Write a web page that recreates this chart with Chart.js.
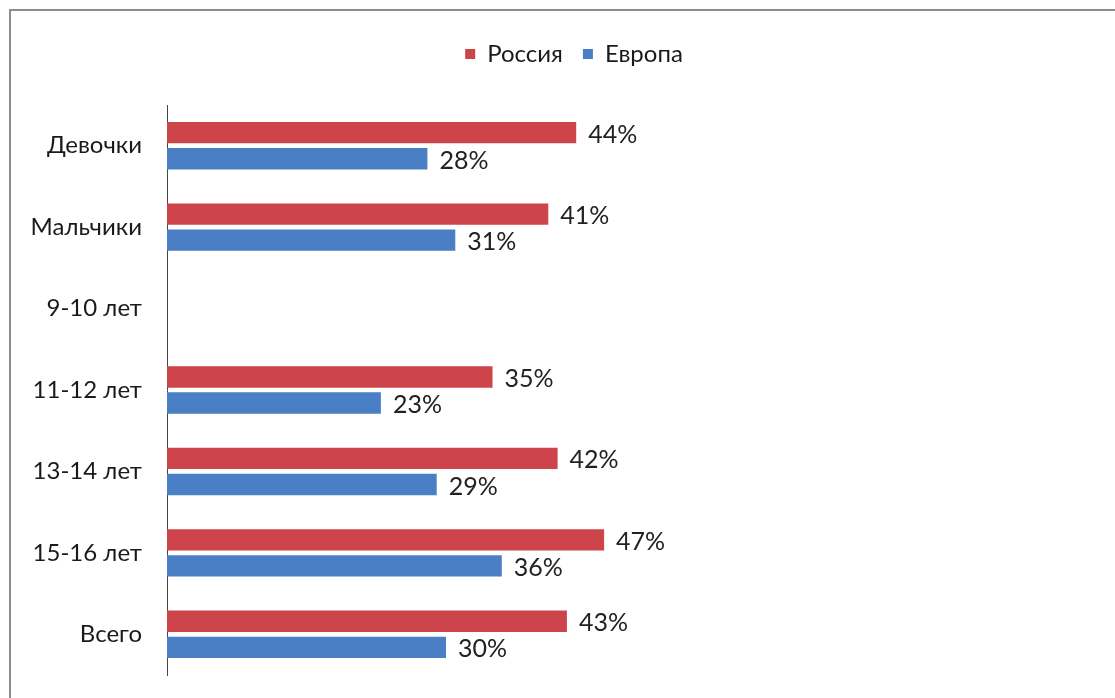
<!DOCTYPE html>
<html>
<head>
<meta charset="utf-8">
<script src="https://cdn.jsdelivr.net/npm/chart.js@4/dist/chart.umd.min.js"></script>
<style>
    html, body { margin: 0; padding: 0; background: #fff; overflow: hidden; }
    #frame {
        position: absolute; left: 9px; top: 9px;
        width: 1104px; height: 687px;
        border-top: 2px solid #8c8c8c;
        border-left: 2px solid #8c8c8c;
    }
    #myChart { display: block; }
</style>
</head>
<body>
<div id="frame"><canvas id="myChart" width="1104" height="687"></canvas></div>
<script>
(function () {
    'use strict';

    var categories = ['Девочки', 'Мальчики', '9-10 лет', '11-12 лет', '13-14 лет', '15-16 лет', 'Всего'];
    var russia = [44, 41, null, 35, 42, 47, 43];
    var europe = [28, 31, null, 23, 29, 36, 30];
    var seriesNames = ['Россия', 'Европа'];

    var FONT = 'Lato, "Open Sans", sans-serif';

    // подписи значений справа от полос
    var valueLabels = {
        id: 'valueLabels',
        afterDatasetsDraw: function (chart) {
            var ctx = chart.ctx;
            ctx.save();
            ctx.font = '25px ' + FONT;
            ctx.fillStyle = '#222';
            ctx.textAlign = 'left';
            ctx.textBaseline = 'middle';
            chart.data.datasets.forEach(function (ds, i) {
                chart.getDatasetMeta(i).data.forEach(function (bar, j) {
                    if (ds.data[j] === null) return;
                    ctx.fillText(ds.data[j] + '%', bar.x + 12, bar.y + 2);
                });
            });
            ctx.restore();
        }
    };

    // отступ под легендой и сдвиг легенды вправо
    var legendGap = {
        id: 'legendGap',
        beforeInit: function (chart) {
            var fit = chart.legend.fit;
            chart.legend.fit = function () {
                fit.bind(chart.legend)();
                this.height += 29;
            };
        },
        afterLayout: function (chart) {
            chart.legend.left += 40;
        }
    };

    new Chart(document.getElementById('myChart'), {
        type: 'bar',
        data: {
            labels: categories,
            datasets: [
                {
                    label: seriesNames[0],
                    backgroundColor: '#cd444b',
                    data: russia
                },
                {
                    label: seriesNames[1],
                    backgroundColor: '#4a7fc6',
                    data: europe
                }
            ]
        },
        options: {
            indexAxis: 'y',
            responsive: false,
            animation: false,
            categoryPercentage: 0.64,
            barPercentage: 0.82,
            layout: {
                padding: { top: 11, right: 18, bottom: 23, left: 0 }
            },
            scales: {
                x: {
                    display: false,
                    min: 0,
                    max: 100
                },
                y: {
                    grid: { display: false, drawTicks: false },
                    border: { display: true, color: '#444', width: 1 },
                    ticks: {
                        color: '#1a1a1a',
                        padding: 25,
                        font: { family: FONT, size: 24 }
                    },
                    afterFit: function (scale) {
                        scale.width = 156;
                        scale.paddingTop = 0;
                        scale.paddingBottom = 0;
                    }
                }
            },
            plugins: {
                legend: {
                    position: 'top',
                    labels: {
                        boxWidth: 10,
                        boxHeight: 10,
                        padding: 20,
                        color: '#1a1a1a',
                        font: { family: FONT, size: 24 }
                    }
                },
                tooltip: { enabled: false }
            }
        },
        plugins: [valueLabels, legendGap]
    });
})();
</script>
</body>
</html>
